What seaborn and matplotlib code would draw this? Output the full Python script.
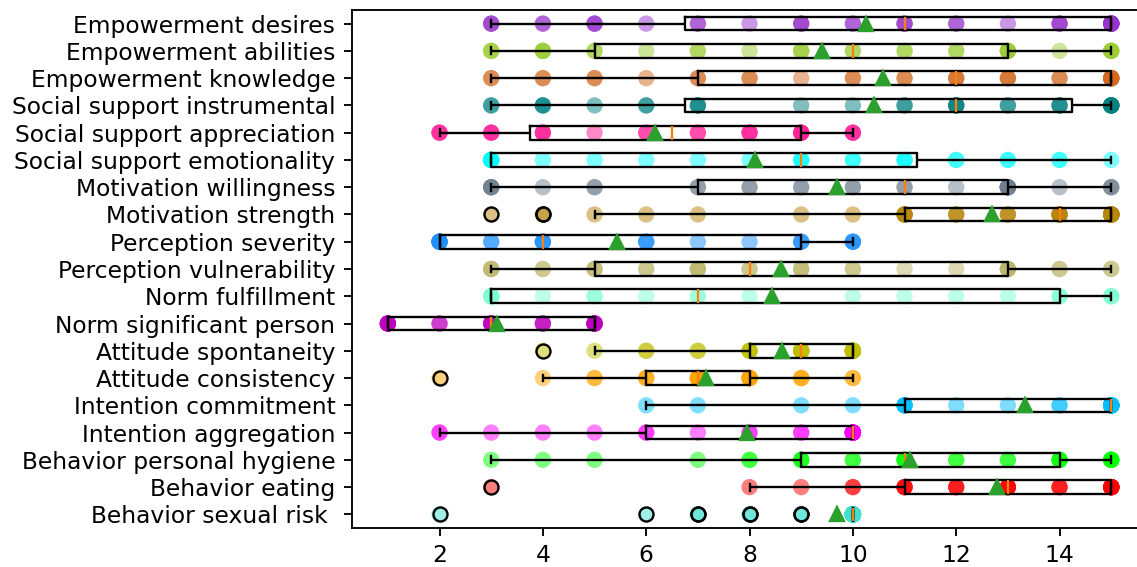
import numpy as np
import pandas as pd
import matplotlib
matplotlib.use("Agg")
import matplotlib.pyplot as plt
import seaborn as sns

# Possible scores on every scale
scores = list(range(1, 16))

# Scales, listed from top to bottom
items = [
    "Empowerment desires",
    "Empowerment abilities",
    "Empowerment knowledge",
    "Social support instrumental",
    "Social support appreciation",
    "Social support emotionality",
    "Motivation willingness",
    "Motivation strength",
    "Perception severity",
    "Perception vulnerability",
    "Norm fulfillment",
    "Norm significant person",
    "Attitude spontaneity",
    "Attitude consistency",
    "Intention commitment",
    "Intention aggregation",
    "Behavior personal hygiene",
    "Behavior eating",
    "Behavior sexual risk ",
]

# Number of respondents giving each score 1..15
empowerment_desires = [0, 0, 3, 2, 3, 1, 2, 1, 3, 2, 3, 2, 1, 3, 10]
empowerment_abilities = [0, 0, 3, 4, 2, 1, 2, 1, 3, 2, 2, 2, 5, 1, 5]
empowerment_knowledge = [0, 0, 2, 2, 2, 1, 2, 2, 1, 2, 2, 3, 3, 2, 9]
support_instrumental = [0, 0, 2, 3, 1, 2, 3, 0, 1, 1, 2, 4, 2, 3, 8]
support_appreciation = [0, 3, 3, 3, 1, 2, 2, 3, 4, 3, 0, 0, 0, 0, 0]
support_emotionality = [0, 0, 8, 1, 1, 1, 1, 1, 3, 2, 3, 2, 2, 2, 1]
motivation_willingness = [0, 0, 5, 1, 2, 0, 2, 2, 2, 2, 2, 1, 10, 1, 3]
motivation_strength = [0, 0, 1, 2, 1, 1, 1, 0, 1, 1, 5, 3, 3, 6, 24]
perception_severity = [0, 7, 2, 4, 0, 3, 1, 1, 3, 4, 0, 0, 0, 0, 0]
perception_vulnerability = [0, 0, 4, 2, 3, 2, 4, 2, 3, 2, 1, 1, 5, 2, 2]
norm_fulfillment = [0, 0, 7, 1, 2, 1, 2, 1, 0, 1, 1, 1, 1, 3, 4]
norm_significant_person = [7, 2, 5, 3, 8, 0, 0, 0, 0, 0, 0, 0, 0, 0, 0]
attitude_spontaneity = [0, 0, 0, 1, 1, 2, 2, 4, 7, 12, 0, 0, 0, 0, 0]
attitude_consistency = [0, 1, 0, 1, 2, 3, 6, 7, 3, 2, 0, 0, 0, 0, 0]
intention_commitment = [0, 0, 0, 0, 0, 1, 1, 0, 1, 1, 5, 1, 1, 2, 20]
intention_aggregation = [0, 2, 1, 1, 1, 2, 1, 2, 2, 13, 0, 0, 0, 0, 0]
behavior_hygiene = [0, 0, 1, 1, 1, 0, 1, 2, 3, 2, 4, 2, 2, 4, 6]
behavior_eating = [0, 0, 1, 0, 0, 0, 0, 1, 1, 2, 4, 3, 5, 3, 13]
behavior_sexual_risk = [0, 1, 0, 0, 0, 1, 2, 2, 2, 68, 0, 0, 0, 0, 0]

counts = [
    empowerment_desires, empowerment_abilities, empowerment_knowledge,
    support_instrumental, support_appreciation, support_emotionality,
    motivation_willingness, motivation_strength, perception_severity,
    perception_vulnerability, norm_fulfillment, norm_significant_person,
    attitude_spontaneity, attitude_consistency, intention_commitment,
    intention_aggregation, behavior_hygiene, behavior_eating,
    behavior_sexual_risk,
]

colors = [
    "darkorchid", "yellowgreen", "chocolate", "teal", "deeppink", "cyan",
    "slategray", "darkgoldenrod", "dodgerblue", "darkkhaki", "aquamarine",
    "m", "y", "orange", "deepskyblue", "magenta", "lime", "red", "turquoise",
]

# Long-form table: one row per response
df = pd.DataFrame({
    "item": np.repeat(items, [sum(c) for c in counts]),
    "score": np.concatenate([np.repeat(scores, c) for c in counts]),
})

W, H, DPI = 1137, 567, 168
fig = plt.figure(figsize=(W / DPI, H / DPI), dpi=DPI)
ax = fig.add_axes([351.7 / W, 39 / H, 795.7 / W, 518 / H])

# Individual responses, semi-transparent so repeated scores look darker
sns.stripplot(
    data=df, x="score", y="item", hue="item", order=items, hue_order=items,
    palette=dict(zip(items, colors)), jitter=False, size=7, alpha=0.5,
    linewidth=0, legend=False, ax=ax, zorder=1,
)

# Box summaries on top
sns.boxplot(
    data=df, x="score", y="item", order=items, fill=False, color="black",
    width=0.5, whis=1.5, linewidth=1, showmeans=True,
    medianprops=dict(color="C1", linewidth=1),
    meanprops=dict(marker="^", markerfacecolor="C2", markeredgecolor="C2",
                   markersize=6),
    flierprops=dict(marker="o", markerfacecolor="none",
                    markeredgecolor="black", markersize=6),
    boxprops=dict(color="black", linewidth=1),
    whiskerprops=dict(color="black", linewidth=1),
    capprops=dict(color="black", linewidth=1),
    ax=ax,
)

ax.set_xlim(0.3, 15.7)
ax.set_ylim(18.5, -0.5)
ax.set_xticks([2, 4, 6, 8, 10, 12, 14])
ax.set_xlabel("")
ax.set_ylabel("")

fig.savefig("out.png", dpi=DPI)
